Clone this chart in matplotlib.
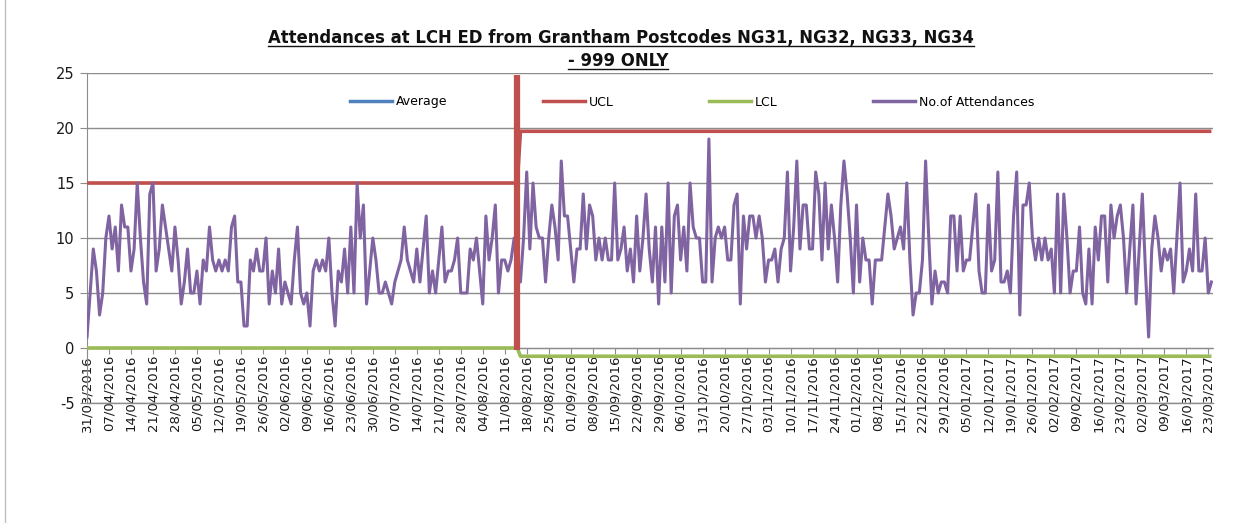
import matplotlib
matplotlib.use("Agg")
import matplotlib.pyplot as plt
import numpy as np
import pandas as pd
from matplotlib.lines import Line2D

plt.rcParams["axes.unicode_minus"] = False

# ---------------- data ----------------
start_date = "2016-03-31"
break_date = "2016-08-15"

# daily attendances
att_apr_may = [1, 5, 9, 7, 3, 5, 10, 12, 9, 11, 7, 13, 11, 11, 7, 9, 15, 10, 6, 4,
               14, 15, 7, 9, 13, 11, 9, 7, 11, 8, 4, 6, 9, 5, 5, 7, 4, 8, 7, 11,
               8, 7, 8, 7, 8, 7, 11, 12, 6]
att_may_jun = [6, 2, 2, 8, 7, 9, 7, 7, 10, 4, 7, 5, 9, 4, 6, 5, 4, 8, 11, 5,
               4, 5, 2, 7, 8, 7, 8, 7, 10, 5, 2, 7, 6, 9, 5, 11, 5, 15, 10, 13]
att_jun_aug = [4, 7, 10, 8, 5, 5, 6, 5, 4, 6, 7, 8, 11, 8, 7, 6, 9, 6, 9, 12,
               5, 7, 5, 8, 11, 6, 7, 7, 8, 10, 5, 5, 5, 9, 8, 10, 7, 4, 12, 8,
               10, 13, 5, 8, 8, 7]
att_aug_sep = [8, 10, 7, 6, 10, 16, 9, 15, 11, 10, 10, 6, 10, 13, 11, 8, 17, 12, 12, 9,
               6, 9, 9, 14, 9, 13, 12, 8, 10, 8, 10, 8, 8, 15, 8, 9, 11, 7, 9, 6,
               12, 7, 10, 14]
att_sep_nov = [9, 6, 11, 4, 11, 6, 15, 5, 12, 13, 8, 11, 7, 15, 11, 10, 10, 6, 6, 19,
               6, 10, 11, 10, 11, 8, 8, 13, 14, 4, 12, 9, 12, 12, 10, 12, 10, 6, 8, 8,
               9, 6, 9, 10, 16]
att_nov_dec = [7, 11, 17, 9, 13, 13, 9, 9, 16, 14, 8, 15, 9, 13, 10, 6, 13, 17, 14, 10,
               5, 13, 6, 10, 8, 8, 4, 8, 8, 8, 11, 14, 12, 9, 10, 11, 9, 15, 8, 3,
               5, 5, 8, 17]
att_dec_feb = [10, 4, 7, 5, 6, 6, 5, 12, 12, 7, 12, 7, 8, 8, 11, 14, 7, 5, 5, 13,
               7, 8, 16, 6, 6, 7, 5, 12, 16, 3, 13, 13, 15, 10, 8, 10, 8, 10, 8, 9,
               5, 14, 5, 14, 10]
att_feb_mar = [5, 7, 7, 11, 5, 4, 9, 4, 11, 8, 12, 12, 6, 13, 10, 12, 13, 10, 5, 9,
               13, 4, 9, 14, 7, 1, 9, 12, 10, 7, 9, 8, 9, 5, 10, 15, 6, 7, 9, 7,
               14, 7, 7, 10, 5, 6]

ucl_levels = [15, 19.7]     # before / after the break
lcl_levels = [0, -0.75]     # before / after the break
series_names = ["Average", "UCL", "LCL", "No.of Attendances"]
y_ticks = [-5, 0, 5, 10, 15, 20, 25]
title_lines = ["Attendances at LCH ED from Grantham Postcodes NG31, NG32, NG33, NG34",
               "- 999 ONLY"]

# ---------------- build ----------------
attendances = (att_apr_may + att_may_jun + att_jun_aug + att_aug_sep +
               att_sep_nov + att_nov_dec + att_dec_feb + att_feb_mar)
dates = pd.date_range(start_date, periods=len(attendances), freq="D")
x = np.arange(len(dates))
brk = (pd.Timestamp(break_date) - pd.Timestamp(start_date)).days
ucl = np.where(x <= brk, ucl_levels[0], ucl_levels[1])
lcl = np.where(x <= brk, lcl_levels[0], lcl_levels[1])

C_BLUE, C_RED, C_GREEN, C_PURPLE = "#4F81BD", "#C0504D", "#9BBB59", "#8064A2"
GRID = "#8C8C8C"

W, H = 1244, 523
fig = plt.figure(figsize=(W / 100, H / 100), dpi=100)
ax = fig.add_axes([87 / W, 1 - 403 / H, (1213 - 87) / W, (403 - 73) / H])

l_ucl, = ax.plot(x, ucl, color=C_RED, lw=2.6, solid_capstyle="butt", zorder=3)
l_lcl, = ax.plot(x, lcl, color=C_GREEN, lw=2.6, solid_capstyle="butt", zorder=3)
l_att, = ax.plot(x, attendances, color=C_PURPLE, lw=2.2, zorder=4)
# thick red separator at the break date
ax.plot([brk, brk], [24.8, -0.2], color=C_RED, lw=4.5, solid_capstyle="butt", zorder=5)

ax.set_xlim(0, len(x) - 0.5)
ax.set_ylim(-5, 25)
ax.set_yticks(y_ticks)
ax.yaxis.grid(True, color=GRID, lw=1.0, zorder=0)
ax.set_axisbelow(True)
# bottom gridline is drawn across the date labels in the original
ax.axhline(y_ticks[0], color=GRID, lw=1.0, zorder=1, clip_on=False)

for s in ["top", "right"]:
    ax.spines[s].set_visible(False)
ax.spines["left"].set_color(GRID)
ax.spines["bottom"].set_color(GRID)
ax.spines["bottom"].set_position(("data", 0))

tick_idx = x[::7]
ax.set_xticks(tick_idx)
ax.set_xticklabels([d.strftime("%d/%m/%Y") for d in dates[tick_idx]],
                   rotation=90, fontsize=9.5, color="#1a1a1a")
ax.tick_params(axis="x", direction="out", length=4, color=GRID, pad=1)
ax.tick_params(axis="y", direction="out", length=5, color=GRID, labelsize=10.5,
               labelcolor="#1a1a1a", pad=4)

# legend
h_avg = Line2D([], [], color=C_BLUE, lw=2.5)
h_ucl = Line2D([], [], color=C_RED, lw=2.5)
h_lcl = Line2D([], [], color=C_GREEN, lw=2.5)
h_att = Line2D([], [], color=C_PURPLE, lw=2.5)
fig.legend([h_avg, h_ucl, h_lcl, h_att], series_names, ncol=4, frameon=False,
           loc="center", bbox_to_anchor=(692 / W, 1 - 102 / H),
           fontsize=9, handlelength=3.4, handletextpad=0.3, columnspacing=7.6)

# light frame on the left edge of the chart area
fig.add_artist(Line2D([5 / W, 5 / W], [0, 1], color="#BFBFBF", lw=1.0,
                      transform=fig.transFigure))

# title with underline
fig.canvas.draw()
r = fig.canvas.get_renderer()
baselines = [43, 66]
t1 = fig.text(621 / W, 1 - baselines[0] / H, title_lines[0], ha="center", va="baseline",
              fontsize=12, fontweight="bold", color="#111111")
bb = t1.get_window_extent(r)
t1.set_fontsize(12 * 707 / bb.width)
t2 = fig.text(618 / W, 1 - baselines[1] / H, title_lines[1], ha="center", va="baseline",
              fontsize=t1.get_fontsize(), fontweight="bold", color="#111111")
fig.canvas.draw()
for t, b in zip([t1, t2], baselines):
    bb = t.get_window_extent(r)
    yline = 1 - (b + 3) / H
    fig.add_artist(Line2D([bb.x0 / W, bb.x1 / W], [yline, yline], color="#111111", lw=1.0,
                          transform=fig.transFigure))

fig.savefig("out.png", dpi=100)
